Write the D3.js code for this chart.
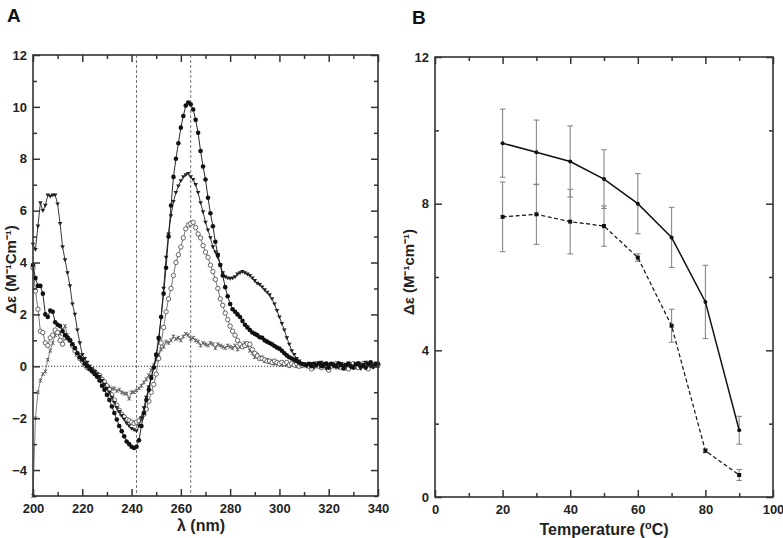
<!DOCTYPE html>
<html><head><meta charset="utf-8">
<script src="https://cdn.jsdelivr.net/npm/d3@7"></script>
<style>
body{margin:0;background:#fff;}
text{font-family:"Liberation Sans",Arial,sans-serif;}
</style></head>
<body>
<svg id="chart" width="783" height="538"></svg>
<script>
// ---------- Panel A data (CD spectra, 200–340 nm, 1 nm steps) ----------
const wavelengths = d3.range(200, 341);
const filledCircles = [
 3.9,3.4,3.1,3.1,2.8,2.0,1.9,2.15,2.1,1.7,
 1.6,1.55,1.35,1.2,1.1,1.0,0.85,0.7,0.5,0.35,
 0.25,0.1,0.0,-0.1,-0.2,-0.3,-0.4,-0.55,-0.75,-0.9,
 -1.1,-1.3,-1.55,-1.8,-2.05,-2.3,-2.5,-2.7,-2.9,-3.0,
 -3.1,-3.15,-3.1,-2.85,-2.3,-1.8,-1.3,-0.9,-0.45,-0.05,
 0.45,1.1,1.9,2.8,3.8,5.0,6.2,7.3,8.0,8.6,
 9.2,9.65,10.05,10.17,10.1,9.9,9.5,9.0,8.3,7.7,
 7.2,6.5,5.9,5.4,4.8,4.3,3.9,3.5,3.05,2.7,
 2.4,2.2,2.1,2.0,1.9,1.75,1.6,1.5,1.4,1.3,
 1.25,1.2,1.12,1.1,1.0,0.95,0.9,0.85,0.78,0.72,
 0.68,0.6,0.5,0.42,0.35,0.3,0.25,0.2,0.15,0.1,
 0.08,
 0.05,0.1,0.0,0.1,0.05,0.12,0.0,0.08,0.1,-0.05,
 0.1,0.05,0.0,0.12,0.05,-0.08,0.05,0.1,0.0,-0.05,
 0.08,0.12,0.0,0.05,-0.05,0.1,0.15,0.0,0.05,0.1
];
const triangles = [
 4.7,4.5,5.4,6.3,6.0,6.2,6.6,6.55,6.6,6.6,
 6.25,5.5,4.6,4.1,3.6,3.1,2.4,2.0,1.4,0.9,
 0.45,0.3,0.15,0.0,-0.1,-0.2,-0.3,-0.4,-0.55,-0.7,
 -0.85,-1.0,-1.2,-1.4,-1.6,-1.75,-1.9,-2.05,-2.2,-2.3,
 -2.4,-2.45,-2.5,-2.3,-2.0,-1.6,-1.2,-0.8,-0.4,-0.05,
 0.35,1.0,1.9,3.0,4.2,5.1,5.8,6.35,6.7,6.95,
 7.15,7.3,7.38,7.43,7.3,7.2,7.0,6.7,6.3,5.95,
 5.55,5.25,4.95,4.6,4.4,4.2,3.9,3.6,3.45,3.4,
 3.38,3.4,3.45,3.55,3.6,3.65,3.6,3.55,3.5,3.4,
 3.3,3.2,3.15,3.05,2.95,2.85,2.75,2.6,2.4,2.15,
 1.9,1.65,1.4,1.1,0.85,0.6,0.45,0.3,0.2,0.1,
 0.05,
 0.0,0.08,0.1,-0.05,0.05,0.1,0.15,0.0,-0.1,0.05,
 0.1,0.0,0.05,-0.05,0.1,0.05,0.0,0.12,-0.05,0.0,
 0.1,0.05,-0.1,0.0,0.15,0.05,0.0,-0.05,0.1,0.05
];
const openCircles = [
 3.8,2.9,2.2,1.35,1.3,0.9,0.8,1.1,1.2,1.4,
 1.3,1.0,0.85,1.1,1.1,1.0,0.8,0.6,0.45,0.3,
 0.2,0.05,-0.05,-0.1,-0.15,-0.2,-0.3,-0.35,-0.5,-0.6,
 -0.75,-0.9,-1.1,-1.3,-1.5,-1.7,-1.85,-1.95,-2.05,-2.1,
 -2.15,-2.2,-2.15,-2.1,-2.0,-1.85,-1.65,-1.35,-1.0,-0.7,
 -0.3,0.3,0.9,1.5,2.1,2.6,3.0,3.5,4.0,4.3,
 4.6,4.95,5.3,5.45,5.5,5.55,5.35,5.1,4.95,4.65,
 4.4,4.2,3.9,3.65,3.35,3.0,2.6,2.35,2.05,1.8,
 1.55,1.35,1.2,1.0,0.85,0.75,0.8,0.87,0.85,0.65,
 0.5,0.4,0.3,0.3,0.25,0.2,0.2,0.15,0.2,0.15,
 0.1,0.15,0.1,0.15,0.05,0.1,0.05,0.1,0.0,0.05,
 0.05,
 0.05,0.0,-0.1,0.05,0.1,0.0,-0.05,0.05,0.1,-0.15,
 0.0,0.05,0.1,0.0,-0.05,0.05,0.0,-0.1,0.05,0.1,
 0.0,-0.05,0.05,0.1,0.0,-0.1,0.05,0.0,0.1,0.05
];
const grayCrosses = [
 -5.0,-2.0,-1.0,-0.55,-0.3,-0.2,0.25,0.6,0.9,1.2,
 1.3,1.25,1.4,1.55,1.2,1.0,0.85,0.7,0.5,0.35,
 0.2,0.1,0.0,-0.1,-0.15,-0.25,-0.35,-0.45,-0.55,-0.65,
 -0.75,-0.8,-0.87,-0.85,-0.95,-0.9,-1.0,-1.05,-1.05,-1.25,
 -1.0,-1.0,-0.93,-0.85,-0.75,-0.62,-0.5,-0.35,-0.15,0.05,
 0.25,0.45,0.65,0.75,0.95,0.9,1.0,1.15,1.05,1.1,
 1.0,1.15,1.25,1.2,1.05,1.1,1.0,0.95,0.8,0.9,
 0.85,0.8,0.9,0.85,0.7,0.85,0.8,0.75,0.7,0.8,
 0.75,0.7,0.8,0.65,0.75,0.8,0.9,0.8,0.6,0.5,
 0.35,0.45,0.3,0.35,0.2,0.25,0.15,0.2,0.1,0.15,
 0.1,0.05,0.1,0.05,0.0,0.05,0.1,0.0,0.05,0.0,
 0.05,
 0.05,0.0,0.05,-0.05,0.0,0.1,0.05,0.0,-0.05,0.05,
 0.0,0.1,-0.05,0.0,0.05,0.0,-0.1,0.05,0.0,0.05,
 -0.05,0.0,0.1,0.05,0.0,-0.05,0.05,0.0,0.05,0.0
];
const refWavelengths = [242, 264];
const xTicksA = [200,220,240,260,280,300,320,340];
const yTicksA = [-4,-2,0,2,4,6,8,10,12];

// ---------- Panel B data (thermal denaturation) ----------
const temperatures = [20,30,40,50,60,70,80,90];
const solidValues = [9.65,9.4,9.15,8.67,8.0,7.08,5.32,1.82];
const solidErrors = [0.93,0.88,0.97,0.8,0.82,0.82,1.0,0.38];
const dashedValues = [7.64,7.71,7.51,7.39,6.53,4.67,1.26,0.6];
const dashedErrors = [0.95,0.82,0.88,0.55,0.1,0.45,0.05,0.15];
const xTicksB = [0,20,40,60,80,100];
const yTicksB = [0,4,8,12];

const svg = d3.select("#chart");
const frameColor = "#333";

function frameAxes(g, x, y, w, h, xMaj, xMin, yMaj, yMin, xFmt, yFmt) {
  const L = 7, S = 4;
  g.append("g").attr("transform",`translate(0,${h})`)
    .call(d3.axisBottom(x).tickValues(xMin).tickSize(-S).tickFormat(""));
  g.append("g").attr("transform",`translate(0,${h})`).attr("class","lab")
    .call(d3.axisBottom(x).tickValues(xMaj).tickSize(-L).tickPadding(8).tickFormat(xFmt));
  g.append("g").call(d3.axisTop(x).tickValues(xMin).tickSize(-S).tickFormat(""));
  g.append("g").call(d3.axisTop(x).tickValues(xMaj).tickSize(-L).tickFormat(""));
  g.append("g").call(d3.axisLeft(y).tickValues(yMin).tickSize(-S).tickFormat(""));
  g.append("g").attr("class","lab")
    .call(d3.axisLeft(y).tickValues(yMaj).tickSize(-L).tickPadding(6).tickFormat(yFmt));
  g.append("g").attr("transform",`translate(${w},0)`)
    .call(d3.axisRight(y).tickValues(yMin).tickSize(-S).tickFormat(""));
  g.append("g").attr("transform",`translate(${w},0)`)
    .call(d3.axisRight(y).tickValues(yMaj).tickSize(-L).tickFormat(""));
  g.selectAll(".domain").remove();
  g.selectAll(".tick line").attr("stroke",frameColor).attr("stroke-width",1.5);
  g.selectAll(".lab text").attr("font-size",13).attr("font-weight","bold").attr("fill","#222");
  g.append("rect").attr("width",w).attr("height",h)
    .attr("fill","none").attr("stroke",frameColor).attr("stroke-width",1.6);
}

// ================= Panel A =================
const A = {left:33, top:55, width:345, height:441};
const gA = svg.append("g").attr("transform",`translate(${A.left},${A.top})`);
const xA = d3.scaleLinear().domain([200,340]).range([0,A.width]);
const yA = d3.scaleLinear().domain([-5,12]).range([A.height,0]);

gA.selectAll(".vref").data(refWavelengths).enter().append("line")
  .attr("x1",d=>xA(d)).attr("x2",d=>xA(d)).attr("y1",0).attr("y2",A.height)
  .attr("stroke","#666").attr("stroke-width",0.9).attr("stroke-dasharray","3,2");
gA.append("line").attr("x1",0).attr("x2",A.width).attr("y1",yA(0)).attr("y2",yA(0))
  .attr("stroke","#333").attr("stroke-width",1).attr("stroke-dasharray","1.2,1.8");

const lineA = d3.line().x((d,i)=>xA(wavelengths[i])).y(d=>yA(d));
const seriesA = [
  {vals: grayCrosses, stroke:"#777", mark:"cross"},
  {vals: openCircles, stroke:"#666", mark:"open"},
  {vals: triangles, stroke:"#222", mark:"tri"},
  {vals: filledCircles, stroke:"#111", mark:"filled"}
];
seriesA.forEach(s=>{
  gA.append("path").datum(s.vals).attr("d",lineA)
    .attr("fill","none").attr("stroke",s.stroke).attr("stroke-width",0.9);
  const pts = gA.append("g").selectAll("g").data(s.vals).enter().append("g")
    .attr("transform",(d,i)=>`translate(${xA(wavelengths[i])},${yA(d)})`);
  if (s.mark==="filled") {
    pts.append("circle").attr("r",2.3).attr("fill","#111");
  } else if (s.mark==="open") {
    pts.append("circle").attr("r",2.2).attr("fill","#fff").attr("stroke","#555").attr("stroke-width",0.9);
  } else if (s.mark==="tri") {
    pts.append("path").attr("d","M-2.3,-1.6L2.3,-1.6L0,2.2Z").attr("fill","#222");
  } else {
    pts.append("path").attr("d","M-1.8,-1.8L1.8,1.8M-1.8,1.8L1.8,-1.8M0,-2L0,2")
      .attr("stroke","#666").attr("stroke-width",1);
  }
});

frameAxes(gA, xA, yA, A.width, A.height,
  xTicksA, d3.range(210,340,20), yTicksA, d3.range(-5,12,2),
  d3.format("d"), d3.format("d"));

svg.append("text").attr("x",7).attr("y",22).text("A")
  .attr("font-size",19).attr("font-weight","bold").attr("fill","#111");
svg.append("text").attr("x",201).attr("y",531).attr("text-anchor","middle")
  .attr("font-size",16).attr("font-weight","bold").attr("fill","#222").text("λ (nm)");
svg.append("text").attr("transform",`translate(16,${A.top+A.height/2-6}) rotate(-90)`)
  .attr("text-anchor","middle").attr("font-size",15).attr("font-weight","bold").attr("fill","#222")
  .text("Δε (M⁻¹Cm⁻¹)");

// ================= Panel B =================
const B = {left:435, top:57, width:338, height:440};
const gB = svg.append("g").attr("transform",`translate(${B.left},${B.top})`);
const xB = d3.scaleLinear().domain([0,100]).range([0,B.width]);
const yB = d3.scaleLinear().domain([0,12]).range([B.height,0]);

function errBars(vals, errs) {
  const g = gB.append("g");
  vals.forEach((v,i)=>{
    const x = xB(temperatures[i]);
    g.append("line").attr("x1",x).attr("x2",x).attr("y1",yB(v+errs[i])).attr("y2",yB(v-errs[i]))
      .attr("stroke","#888").attr("stroke-width",1.1);
    [v+errs[i], v-errs[i]].forEach(e=>{
      g.append("line").attr("x1",x-2.8).attr("x2",x+2.8).attr("y1",yB(e)).attr("y2",yB(e))
        .attr("stroke","#888").attr("stroke-width",1.1);
    });
  });
}
errBars(solidValues, solidErrors);
errBars(dashedValues, dashedErrors);

const lineB = d3.line().x((d,i)=>xB(temperatures[i])).y(d=>yB(d));
gB.append("path").datum(solidValues).attr("d",lineB).attr("fill","none")
  .attr("stroke","#111").attr("stroke-width",1.5);
gB.append("path").datum(dashedValues).attr("d",lineB).attr("fill","none")
  .attr("stroke","#111").attr("stroke-width",1.2).attr("stroke-dasharray","4,2.5");
gB.selectAll(".ps").data(solidValues).enter().append("circle")
  .attr("cx",(d,i)=>xB(temperatures[i])).attr("cy",d=>yB(d)).attr("r",2).attr("fill","#111");
gB.selectAll(".pd").data(dashedValues).enter().append("rect")
  .attr("x",(d,i)=>xB(temperatures[i])-2).attr("y",d=>yB(d)-2).attr("width",4).attr("height",4).attr("fill","#111");

frameAxes(gB, xB, yB, B.width, B.height,
  xTicksB, d3.range(10,100,20), yTicksB, [2,6,10],
  d3.format("d"), d3.format("d"));

svg.append("text").attr("x",412).attr("y",24).text("B")
  .attr("font-size",19).attr("font-weight","bold").attr("fill","#111");
const tl = svg.append("text").attr("x",604).attr("y",535).attr("text-anchor","middle")
  .attr("font-size",16).attr("font-weight","bold").attr("fill","#222");
tl.append("tspan").text("Temperature (");
tl.append("tspan").attr("baseline-shift","super").attr("font-size",11).text("o");
tl.append("tspan").text("C)");
svg.append("text").attr("transform",`translate(414,${B.top+B.height/2-5}) rotate(-90)`)
  .attr("text-anchor","middle").attr("font-size",15).attr("font-weight","bold").attr("fill","#222")
  .text("Δε (M⁻¹cm⁻¹)");
</script>
</body></html>
